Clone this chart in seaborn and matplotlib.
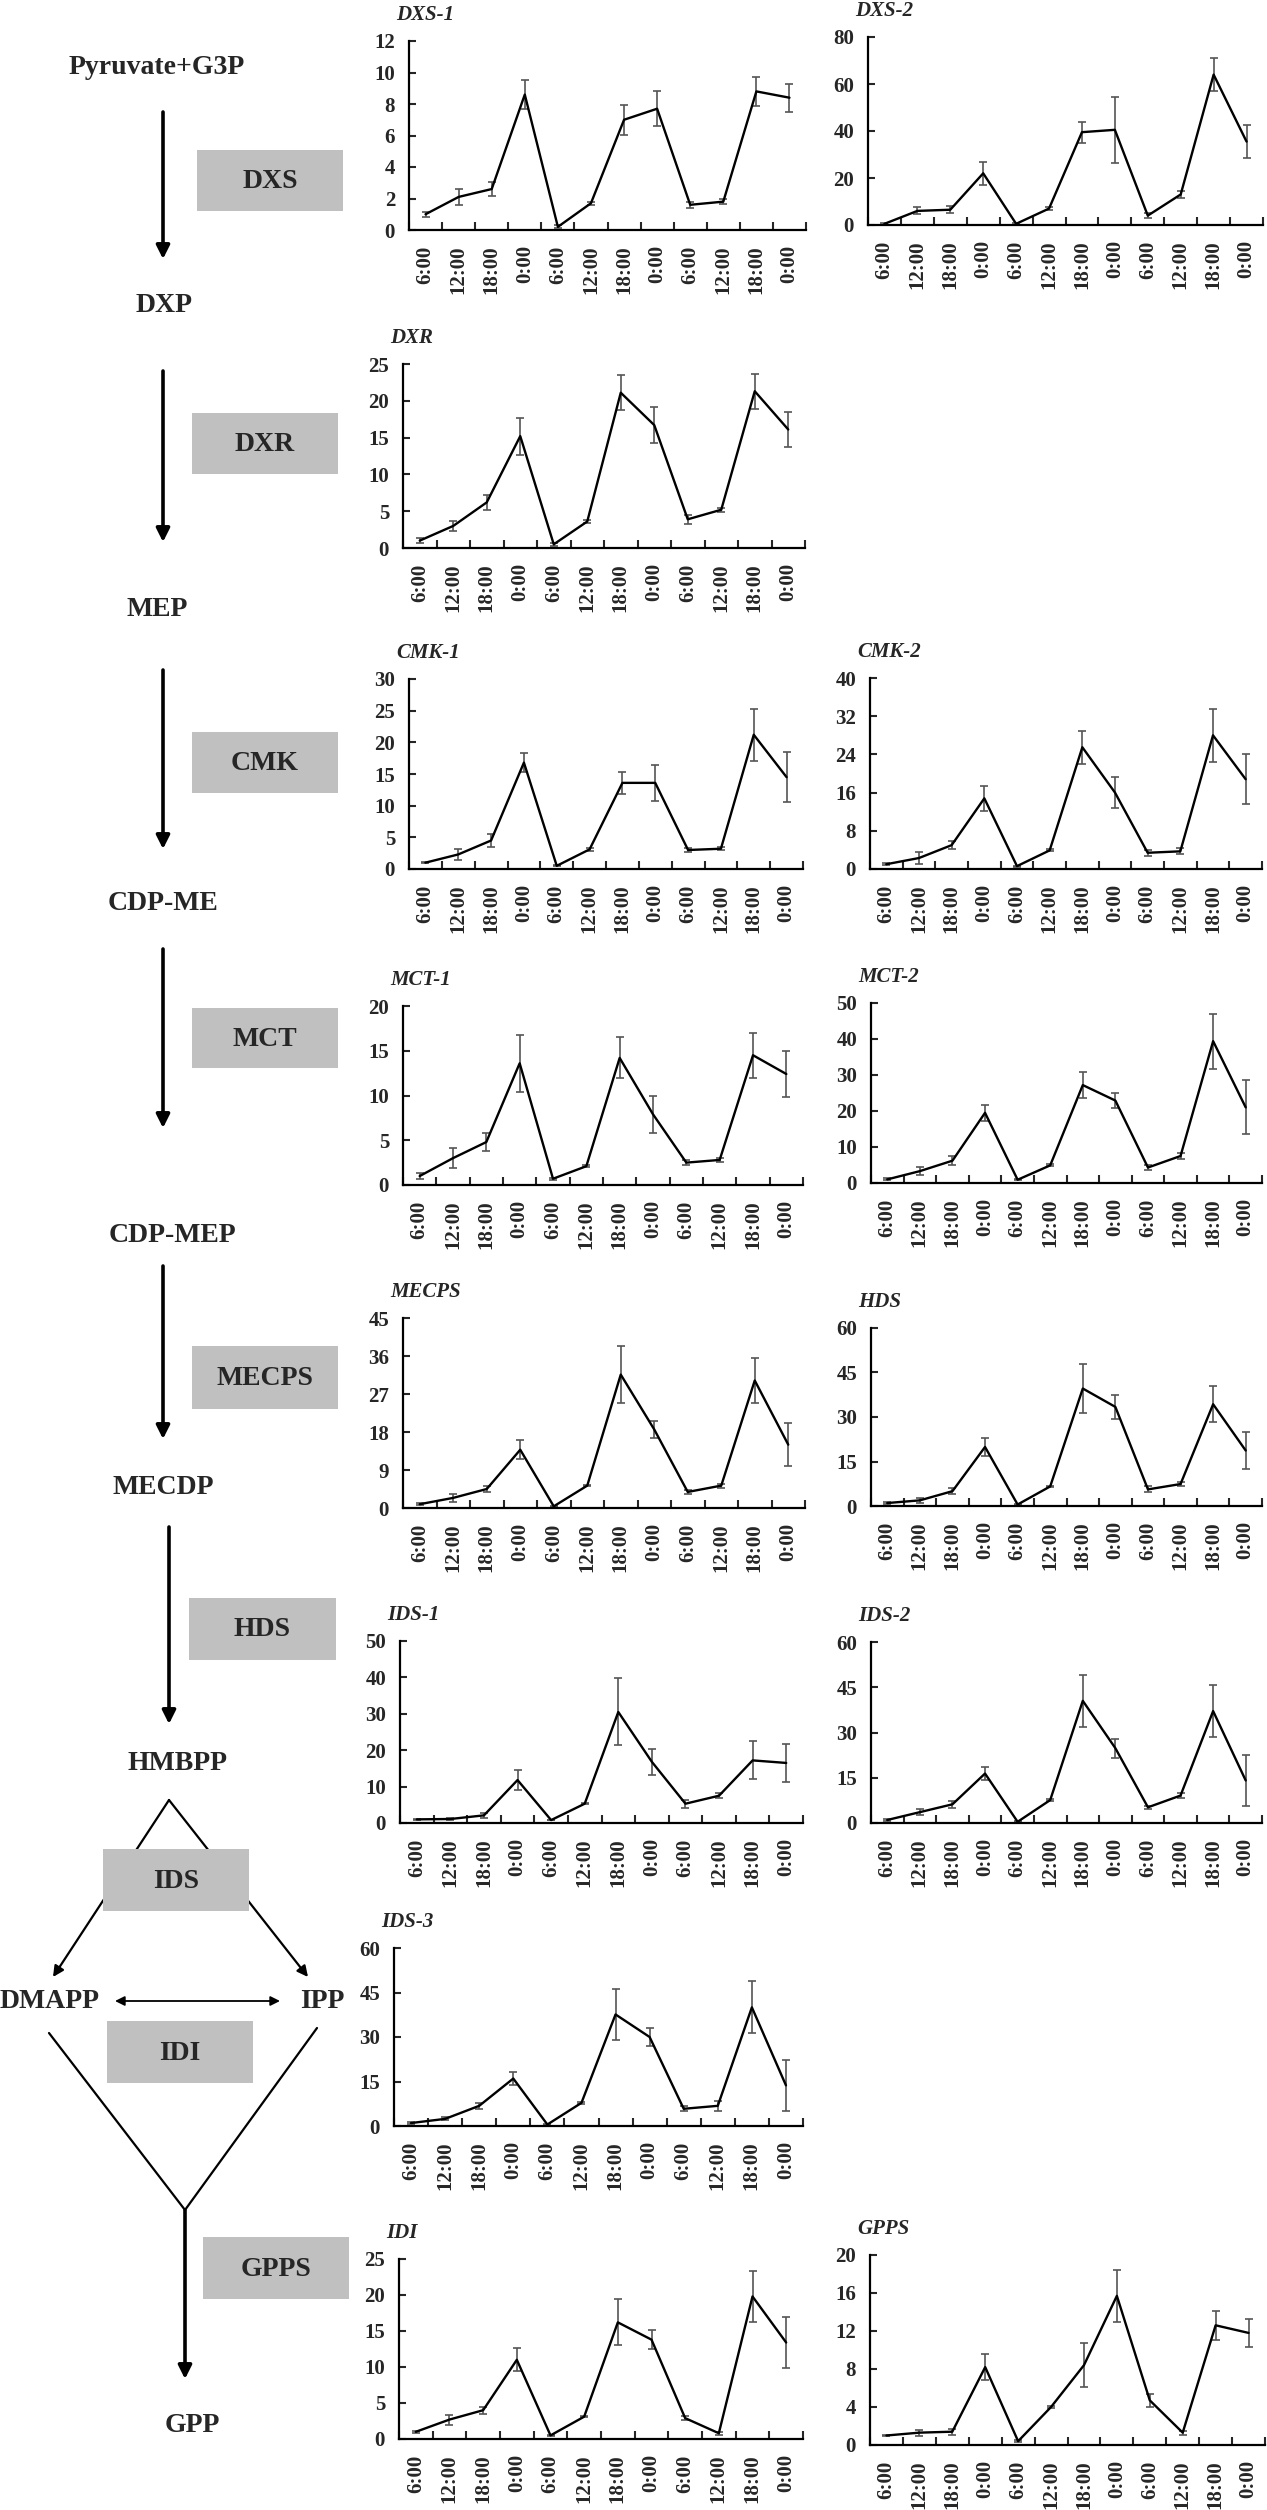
import numpy as np
import pandas as pd
import matplotlib
matplotlib.use("Agg")
import matplotlib.pyplot as plt
from matplotlib.patches import Rectangle
import seaborn as sns

# sampling times (3 days, every 6 h)
times = ["6:00", "12:00", "18:00", "0:00", "6:00", "12:00",
         "18:00", "0:00", "6:00", "12:00", "18:00", "0:00"]

genes = ["DXS-1", "DXS-2", "DXR", "CMK-1", "CMK-2", "MCT-1", "MCT-2",
         "MECPS", "HDS", "IDS-1", "IDS-2", "IDS-3", "IDI", "GPPS"]

dxs1 = [1.0, 2.1, 2.6, 8.6, 0.2, 1.7, 7.0, 7.7, 1.6, 1.8, 8.8, 8.4]
dxs1_err = [0.15, 0.5, 0.45, 0.9, 0.1, 0.1, 0.95, 1.1, 0.2, 0.15, 0.9, 0.9]
dxs2 = [0.5, 6.0, 6.5, 22.0, 0.5, 7.0, 39.5, 40.5, 4.0, 13.0, 64.0, 35.5]
dxs2_err = [0.5, 1.5, 1.5, 5.0, 0.3, 0.5, 4.5, 14.0, 1.2, 1.5, 7.0, 7.0]
dxr = [1.0, 3.0, 6.2, 15.2, 0.5, 3.6, 21.1, 16.7, 3.9, 5.2, 21.3, 16.1]
dxr_err = [0.3, 0.7, 1.0, 2.5, 0.2, 0.2, 2.4, 2.4, 0.6, 0.3, 2.4, 2.4]
cmk1 = [1.0, 2.3, 4.5, 16.8, 0.5, 3.1, 13.6, 13.6, 3.0, 3.2, 21.2, 14.5]
cmk1_err = [0.1, 0.8, 1.1, 1.5, 0.1, 0.2, 1.7, 2.8, 0.3, 0.2, 4.1, 4.0]
cmk2 = [1.0, 2.3, 5.0, 14.8, 0.6, 3.9, 25.5, 16.0, 3.4, 3.7, 28.0, 18.8]
cmk2_err = [0.2, 1.2, 0.8, 2.6, 0.1, 0.2, 3.5, 3.2, 0.6, 0.6, 5.5, 5.2]
mct1 = [1.0, 3.0, 4.8, 13.6, 0.7, 2.1, 14.2, 7.9, 2.5, 2.8, 14.5, 12.4]
mct1_err = [0.3, 1.1, 1.0, 3.2, 0.1, 0.1, 2.3, 2.1, 0.3, 0.2, 2.5, 2.6]
mct2 = [1.0, 3.3, 6.2, 19.5, 0.9, 4.9, 27.2, 22.9, 4.3, 7.5, 39.4, 21.0]
mct2_err = [0.3, 1.2, 1.2, 2.3, 0.2, 0.3, 3.5, 2.2, 0.6, 0.7, 7.6, 7.5]
mecps = [0.9, 2.4, 4.5, 13.8, 0.4, 5.3, 31.6, 18.6, 3.8, 5.3, 30.2, 15.0]
mecps_err = [0.2, 1.0, 0.8, 2.3, 0.1, 0.2, 6.8, 2.0, 0.5, 0.5, 5.3, 5.1]
hds = [1.0, 1.9, 5.0, 19.9, 0.5, 6.6, 39.6, 33.4, 5.6, 7.4, 34.3, 18.7]
hds_err = [0.2, 0.8, 1.0, 3.1, 0.1, 0.2, 8.1, 4.0, 1.0, 0.7, 6.0, 6.2]
ids1 = [1.0, 1.1, 2.1, 11.8, 0.8, 5.3, 30.5, 16.8, 5.3, 7.5, 17.2, 16.5]
ids1_err = [0.2, 0.4, 0.7, 2.8, 0.1, 0.2, 9.2, 3.5, 1.1, 0.7, 5.2, 5.2]
ids2 = [1.0, 3.6, 6.2, 16.4, 0.4, 7.6, 40.5, 24.8, 5.2, 9.1, 37.1, 14.1]
ids2_err = [0.2, 0.9, 1.1, 2.3, 0.1, 0.3, 8.6, 3.1, 0.6, 0.7, 8.5, 8.5]
ids3 = [1.0, 2.4, 6.8, 16.0, 0.5, 7.8, 37.6, 30.0, 5.8, 6.8, 40.0, 13.7]
ids3_err = [0.2, 0.5, 1.1, 2.3, 0.1, 0.3, 8.7, 3.2, 0.9, 1.6, 8.8, 8.7]
idi = [1.0, 2.7, 4.0, 11.0, 0.5, 3.1, 16.2, 13.8, 2.9, 0.8, 19.8, 13.4]
idi_err = [0.1, 0.7, 0.5, 1.6, 0.1, 0.1, 3.2, 1.3, 0.3, 0.2, 3.5, 3.5]
gpps = [1.0, 1.3, 1.4, 8.2, 0.4, 4.0, 8.4, 15.7, 4.7, 1.3, 12.6, 11.8]
gpps_err = [0.1, 0.3, 0.3, 1.4, 0.1, 0.1, 2.3, 2.7, 0.7, 0.2, 1.5, 1.5]

values = [dxs1, dxs2, dxr, cmk1, cmk2, mct1, mct2, mecps, hds, ids1, ids2, ids3, idi, gpps]
errors = [dxs1_err, dxs2_err, dxr_err, cmk1_err, cmk2_err, mct1_err, mct2_err,
          mecps_err, hds_err, ids1_err, ids2_err, ids3_err, idi_err, gpps_err]

y_max = [12, 80, 25, 30, 40, 20, 50, 45, 60, 50, 60, 60, 25, 20]
y_step = [2, 20, 5, 5, 8, 5, 10, 9, 15, 10, 15, 15, 5, 4]

# pathway labels
metabolites = ["Pyruvate+G3P", "DXP", "MEP", "CDP-ME", "CDP-MEP",
               "MECDP", "HMBPP", "DMAPP", "IPP", "GPP"]
enzymes = ["DXS", "DXR", "CMK", "MCT", "MECPS", "HDS", "IDS", "IDI", "GPPS"]

W, H = 1267, 2510

# panel boxes in pixels: left, top, right, bottom
panel_px = [(409, 41, 806, 230), (868, 37, 1263, 225),
            (403, 364, 805, 548),
            (409, 679, 803, 869), (870, 678, 1262, 869),
            (403, 1006, 803, 1185), (871, 1003, 1262, 1183),
            (403, 1318, 805, 1508), (871, 1328, 1262, 1506),
            (400, 1641, 803, 1823), (871, 1642, 1262, 1823),
            (394, 1948, 803, 2126),
            (399, 2259, 803, 2439), (870, 2255, 1265, 2445)]

metab_pos = [(157, 68), (164, 305), (157, 610), (163, 903), (172, 1236),
             (163, 1487), (177, 1764), (50, 2001), (322, 2001), (192, 2425)]
enzyme_box = [(197, 150, 343, 211), (192, 413, 338, 474), (192, 732, 338, 793),
              (192, 1008, 338, 1068), (192, 1346, 338, 1409), (189, 1598, 336, 1660),
              (103, 1849, 249, 1911), (107, 2021, 253, 2083), (203, 2237, 349, 2299)]

sns.set_style("ticks")
plt.rcParams["font.family"] = ["Liberation Serif", "DejaVu Serif"]
plt.rcParams["font.weight"] = "bold"

fig = plt.figure(figsize=(W / 100, H / 100), dpi=100)

# ---- pathway diagram on a pixel-coordinate overlay
diag = fig.add_axes([0, 0, 1, 1])
diag.set_xlim(0, W)
diag.set_ylim(H, 0)
diag.axis("off")
diag.patch.set_visible(False)

def arrow(p0, p1, lw=2.6, ms=20, style="-|>"):
    diag.annotate("", xy=p1, xytext=p0,
                  arrowprops=dict(arrowstyle=style, color="black", lw=lw,
                                  mutation_scale=ms, shrinkA=0, shrinkB=0))

for x, y0, y1 in [(163, 112, 259), (163, 371, 542), (163, 670, 849),
                  (163, 949, 1128), (163, 1266, 1439), (169, 1527, 1724),
                  (185, 2210, 2379)]:
    arrow((x, y0), (x, y1))

arrow((169, 1800), (53, 1977), lw=1.6, ms=16)
arrow((169, 1800), (308, 1977), lw=1.6, ms=16)
arrow((115, 2001), (280, 2001), lw=1.3, ms=14, style="<|-|>")
diag.plot([49, 185, 317], [2033, 2210, 2028], color="black", lw=1.6)

for name, (x0, y0, x1, y1) in zip(enzymes, enzyme_box):
    diag.add_patch(Rectangle((x0, y0), x1 - x0, y1 - y0, facecolor="#c0c0c0",
                             edgecolor="none", zorder=3))
    diag.text((x0 + x1) / 2, (y0 + y1) / 2 + 1, name, ha="center", va="center",
              fontsize=20, fontweight="bold", zorder=4)

for name, (x, y) in zip(metabolites, metab_pos):
    diag.text(x, y, name, ha="center", va="center", fontsize=20, fontweight="bold")

# ---- expression panels
idx = np.arange(len(times))
for gene, vals, errs, top, step, (l, t, r, b) in zip(genes, values, errors, y_max,
                                                      y_step, panel_px):
    ax = fig.add_axes([l / W, 1 - b / H, (r - l) / W, (b - t) / H])
    ax.patch.set_visible(False)
    df = pd.DataFrame({"idx": idx, "value": vals})
    ax.errorbar(idx, vals, yerr=errs, fmt="none", ecolor="#555555",
                elinewidth=1.2, capsize=3, capthick=1.2, zorder=2)
    sns.lineplot(data=df, x="idx", y="value", ax=ax, color="black",
                 linewidth=1.7, zorder=3)
    ax.set_xlim(-0.5, len(times) - 0.5)
    ax.set_ylim(0, top)
    ax.set_yticks(np.arange(0, top + step / 2, step))
    ax.set_xticks(idx)
    ax.set_xticklabels(times, rotation=90, fontsize=15, fontweight="bold")
    ax.set_xticks(np.arange(-0.5, len(times)), minor=True)
    ax.tick_params(axis="x", which="major", length=0, pad=11)
    ax.tick_params(axis="x", which="minor", direction="in", length=6, width=1.5)
    ax.tick_params(axis="y", direction="in", length=5, width=1.5, pad=10,
                   labelsize=15)
    for lab in ax.get_yticklabels():
        lab.set_fontweight("bold")
    ax.set_xlabel("")
    ax.set_ylabel("")
    sns.despine(ax=ax)
    for s in ("left", "bottom"):
        ax.spines[s].set_linewidth(1.6)
        ax.spines[s].set_color("black")
    ax.annotate(gene, xy=(0, 1), xycoords="axes fraction", xytext=(-9, 19),
                textcoords="offset points", ha="left", va="center",
                fontsize=15, fontweight="bold", fontstyle="italic")

fig.savefig("out.png", dpi=100)
